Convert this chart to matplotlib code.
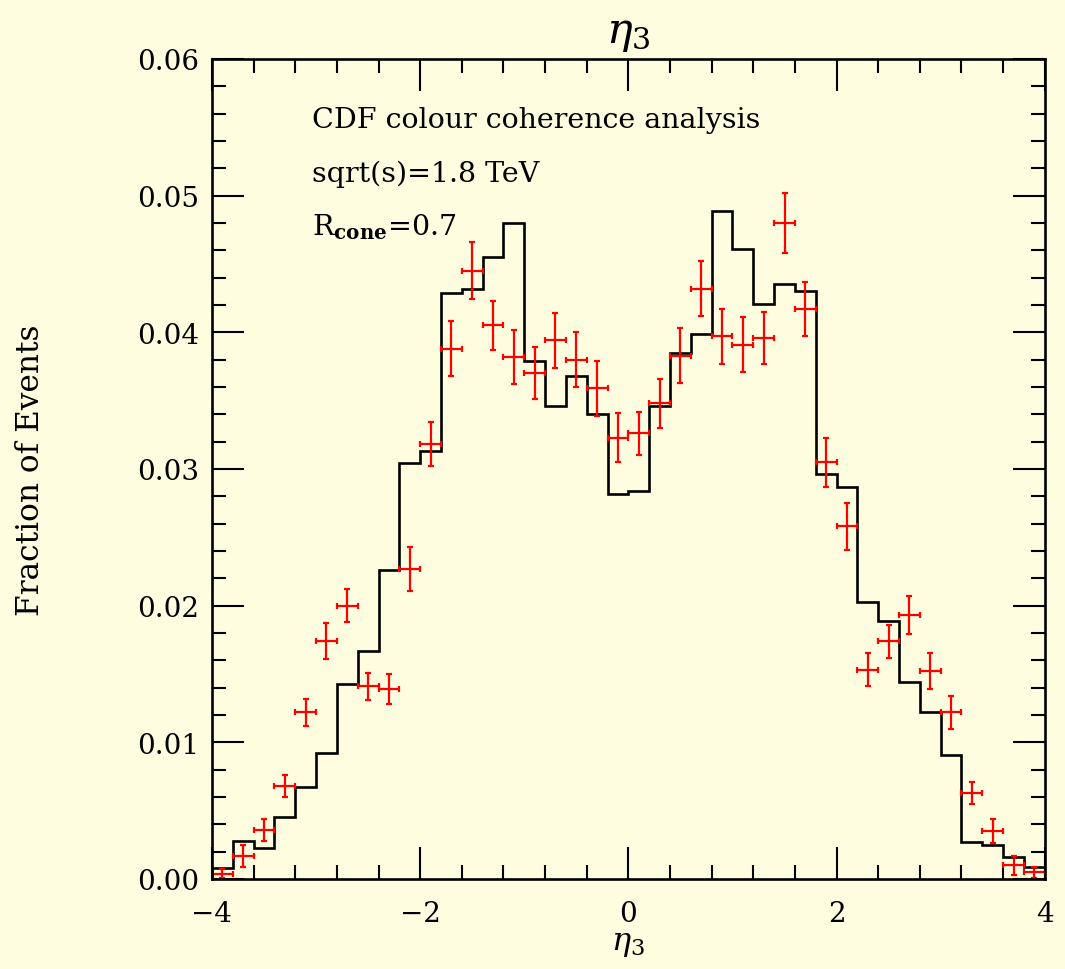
import numpy as np
import matplotlib
matplotlib.use("Agg")
import matplotlib.pyplot as plt
from matplotlib.ticker import MultipleLocator

plt.rcParams['font.family'] = ['DejaVu Serif']
plt.rcParams['mathtext.fontset'] = 'dejavuserif'

# bin edges of the eta_3 histogram (0.2 wide)
bin_edges = np.round(np.arange(-4.0, 4.0001, 0.2), 2)
bin_centres = 0.5 * (bin_edges[:-1] + bin_edges[1:])

# Monte Carlo prediction (fraction of events per bin)
mc_frac = [0.0008, 0.0028, 0.00225, 0.0045, 0.0067, 0.0092, 0.0143, 0.0167, 0.0226, 0.0304,
           0.0313, 0.0429, 0.0432, 0.0455, 0.0480, 0.0379, 0.0346, 0.0368, 0.0340, 0.0282,
           0.0284, 0.0346, 0.0385, 0.0399, 0.0489, 0.0461, 0.0421, 0.0435, 0.0430, 0.0296,
           0.0287, 0.0203, 0.0189, 0.0144, 0.0122, 0.0091, 0.0027, 0.0025, 0.0016, 0.0009]

# CDF data points and their statistical errors
data_frac = [0.0004, 0.0017, 0.0036, 0.0068, 0.0122, 0.0174, 0.0200, 0.0141, 0.0139, 0.0227,
             0.0318, 0.0388, 0.0445, 0.0405, 0.0382, 0.0370, 0.0394, 0.0380, 0.0359, 0.0323,
             0.0326, 0.0348, 0.0383, 0.0432, 0.0397, 0.0391, 0.0396, 0.0480, 0.0417, 0.0305,
             0.0258, 0.0153, 0.0174, 0.0193, 0.0152, 0.0122, 0.0063, 0.0035, 0.0010, 0.0005]
data_err = [0.0003, 0.0008, 0.0008, 0.0008, 0.0010, 0.0013, 0.0012, 0.0010, 0.0011, 0.0016,
            0.0016, 0.0020, 0.0021, 0.0018, 0.0020, 0.0019, 0.0020, 0.0020, 0.0020, 0.0018,
            0.0016, 0.0018, 0.0020, 0.0020, 0.0020, 0.0020, 0.0019, 0.0022, 0.0020, 0.0018,
            0.0017, 0.0012, 0.0012, 0.0014, 0.0013, 0.0012, 0.0008, 0.0009, 0.0007, 0.0004]

bg = '#fffde0'
fig = plt.figure(figsize=(10.65, 9.7), dpi=100, facecolor=bg)
ax = fig.add_axes([0.199, 0.0928, 0.782, 0.8454], facecolor=bg)

# MC histogram as a step outline
ax.stairs(mc_frac, bin_edges, color='black', lw=1.9)

# data with x/y error bars
ax.errorbar(bin_centres, data_frac, xerr=0.1, yerr=data_err, fmt='none',
            ecolor='red', elinewidth=1.6, capsize=2.5, capthick=1.6)

ax.set_xlim(-4, 4)
ax.set_ylim(0, 0.06)
ax.xaxis.set_major_locator(MultipleLocator(2))
ax.xaxis.set_minor_locator(MultipleLocator(0.4))
ax.yaxis.set_major_locator(MultipleLocator(0.01))
ax.yaxis.set_minor_locator(MultipleLocator(0.002))
ax.yaxis.set_major_formatter(matplotlib.ticker.FormatStrFormatter('%.2f'))
ax.xaxis.set_major_formatter(matplotlib.ticker.FuncFormatter(
    lambda v, p: f'{v:.0f}'.replace('-', '\u2212')))

ax.tick_params(which='both', direction='in', top=True, right=True, width=1.5,
               labelsize=20)
ax.tick_params(which='major', length=23)
ax.tick_params(which='minor', length=10)
ax.tick_params(axis='y', which='major', pad=9)
ax.tick_params(axis='x', which='major', pad=15)
for s in ax.spines.values():
    s.set_linewidth(1.9)

ax.set_title(r'$\eta_3$', fontsize=31, pad=12)
ax.set_xlabel(r'$\eta_3$', fontsize=23, labelpad=0)
ax.set_ylabel('Fraction of Events', fontsize=22.5)
ax.yaxis.set_label_coords(-0.199, 0.5)

ax.text(0.12, 0.917, 'CDF colour coherence analysis', transform=ax.transAxes,
        fontsize=20.5)
ax.text(0.12, 0.851, 'sqrt(s)=1.8 TeV', transform=ax.transAxes, fontsize=20.5)
ax.text(0.12, 0.786, r'R$_{\mathbf{cone}}$=0.7', transform=ax.transAxes,
        fontsize=20.5)

fig.savefig('out.png', dpi=100, facecolor=bg)
